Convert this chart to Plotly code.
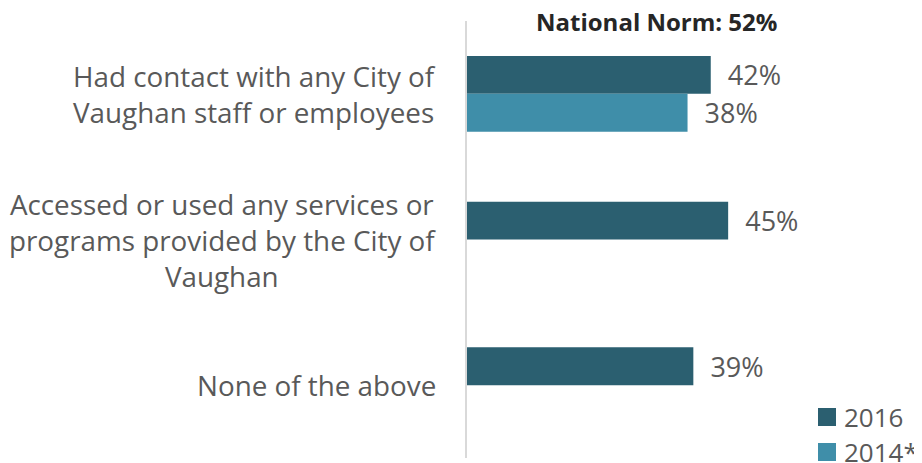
import plotly.graph_objects as go

categories = [
    "Had contact with any City of<br>Vaughan staff or employees",
    "Accessed or used any services or<br>programs provided by the City of<br>Vaughan",
    "None of the above",
]
series_names = ["2016", "2014*"]
values_2016 = [42, 45, 39]
values_2014 = [38, None, None]
colors = ["#2B5F70", "#3F8EA9"]
norm_label = "National Norm: 52%"

FONT = "Open Sans"
GRAY = "#595959"

fig = go.Figure()
for name, vals, col in zip(series_names, [values_2016, values_2014], colors):
    fig.add_trace(go.Bar(
        y=categories, x=vals, orientation="h", name=name,
        marker=dict(color=col, line=dict(width=0)),
        texttemplate="\u00a0\u00a0%{x}%", textposition="outside",
        constraintext="none",
        textfont=dict(family=FONT, size=27, color=GRAY),
        cliponaxis=False, showlegend=False,
    ))

for cat in categories:
    fig.add_annotation(
        xref="paper", yref="y", x=-0.0636, y=cat, text=cat,
        xanchor="right", yanchor="middle", align="center", showarrow=False,
        font=dict(family=FONT, size=27.8, color=GRAY),
    )

fig.add_annotation(
    xref="paper", yref="paper", x=0.417, y=0.998, text="<b>" + norm_label + "</b>",
    xanchor="center", yanchor="middle", showarrow=False,
    font=dict(family=FONT, size=24, color="#262626"),
)

# custom legend (squares + labels) at the lower right
legend_rows_y = [0.0938, 0.0137]
half_h = 0.0206
for name, col, yc in zip(series_names, colors, legend_rows_y):
    fig.add_shape(type="rect", xref="paper", yref="paper",
                  x0=0.7714, x1=0.8110, y0=yc - half_h, y1=yc + half_h,
                  fillcolor=col, line=dict(width=0))
    fig.add_annotation(xref="paper", yref="paper", x=0.8242, y=yc, text=name,
                       xanchor="left", yanchor="middle", showarrow=False,
                       font=dict(family=FONT, size=26, color=GRAY))

fig.update_layout(
    width=914, height=455,
    margin=dict(l=459, r=0, t=13, b=5, autoexpand=False),
    paper_bgcolor="white", plot_bgcolor="white",
    barmode="group", bargap=0.48, bargroupgap=0,
    font=dict(family=FONT, color=GRAY),
    showlegend=False,
)
fig.update_xaxes(range=[0, 78.4], visible=False, showgrid=False, zeroline=False)
fig.update_yaxes(categoryorder="array", categoryarray=categories,
                 autorange="reversed", showticklabels=False, showgrid=False,
                 showline=True, linecolor="#D9D9D9", linewidth=2, ticks="",
                 zeroline=False)

fig.write_html("out.html")
